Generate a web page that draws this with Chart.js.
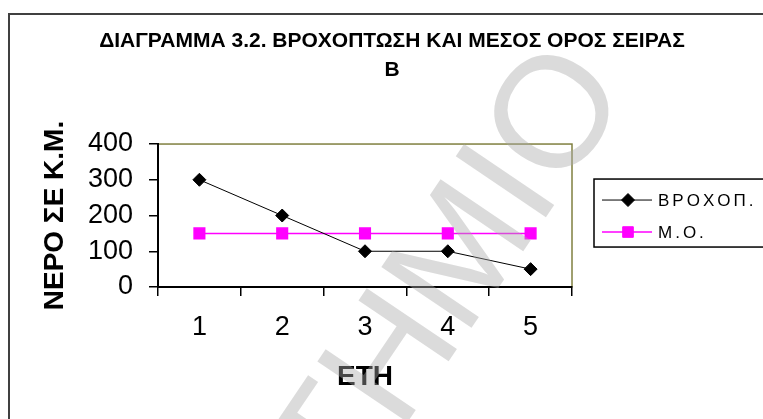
<!DOCTYPE html>
<html>
<head>
<meta charset="utf-8">
<script src="https://cdn.jsdelivr.net/npm/chart.js@4.4.0/dist/chart.umd.min.js"></script>
<style>
  body { margin: 0; background: #fff; }
  canvas { display: block; }
</style>
</head>
<body>
<canvas id="chart" width="763" height="419"></canvas>
<script>
// data
const years = ['1', '2', '3', '4', '5'];
const rainfall = [300, 200, 100, 100, 50];
const meanLine = [150, 150, 150, 150, 150];
const seriesNames = ['ΒΡΟΧΟΠ.', 'Μ.Ο.'];
const titleLines = ['ΔΙΑΓΡΑΜΜΑ 3.2. ΒΡΟΧΟΠΤΩΣΗ ΚΑΙ ΜΕΣΟΣ ΟΡΟΣ ΣΕΙΡΑΣ', 'Β'];
const yTitle = 'ΝΕΡΟ ΣΕ Κ.Μ.';
const xTitle = 'ΕΤΗ';
const watermark = 'ΕΠΙΣΤΗΜΙΟ';

const sans = "'Liberation Sans', Arial, sans-serif";

// white page with the dark frame round it
const framePlugin = {
    id: 'frame',
    beforeDraw(chart) {
        const ctx = chart.ctx;
        const area = chart.chartArea;
        ctx.save();
        ctx.fillStyle = '#fff';
        ctx.fillRect(0, 0, chart.width, chart.height);
        ctx.strokeStyle = '#404040';
        ctx.lineWidth = 2;
        ctx.strokeRect(9, 14, chart.width + 20, chart.height + 20);
        // olive plot border, the axes are drawn over its left and bottom
        ctx.strokeStyle = '#808040';
        ctx.lineWidth = 1.5;
        ctx.strokeRect(area.left, area.top, area.right - area.left, area.bottom - area.top);
        ctx.restore();
    }
};

// boxed legend with line + marker samples
const legendPlugin = {
    id: 'boxLegend',
    afterDraw(chart) {
        const ctx = chart.ctx;
        const area = chart.chartArea;
        const lx = area.right + 22;
        const ly = area.top + 35;
        ctx.save();
        ctx.strokeStyle = '#000';
        ctx.lineWidth = 1.5;
        ctx.strokeRect(lx, ly, 200, 68);
        ctx.font = '17px ' + sans;
        ctx.letterSpacing = '3px';
        ctx.textBaseline = 'middle';
        chart.data.datasets.forEach((ds, i) => {
            const y = ly + 21 + i * 32;
            ctx.strokeStyle = ds.borderColor;
            ctx.lineWidth = ds.borderWidth;
            ctx.beginPath();
            ctx.moveTo(lx + 8, y);
            ctx.lineTo(lx + 58, y);
            ctx.stroke();
            ctx.fillStyle = ds.pointBackgroundColor;
            ctx.strokeStyle = ds.pointBorderColor;
            ctx.lineWidth = 1;
            Chart.helpers.drawPoint(ctx, {pointStyle: ds.pointStyle, radius: ds.pointRadius, borderWidth: 1}, lx + 34, y);
            ctx.fillStyle = '#000';
            ctx.fillText(ds.label, lx + 64, y + 1);
        });
        ctx.restore();
    }
};

// faint diagonal watermark over everything
const watermarkPlugin = {
    id: 'watermark',
    afterDraw(chart) {
        const ctx = chart.ctx;
        ctx.save();
        ctx.translate(631, 91);
        ctx.rotate(-56 * Math.PI / 180);
        ctx.font = '158px ' + sans;
        ctx.fillStyle = 'rgba(170, 170, 170, 0.42)';
        ctx.textAlign = 'right';
        ctx.textBaseline = 'alphabetic';
        ctx.fillText(watermark, 0, 0);
        ctx.restore();
    }
};

new Chart(document.getElementById('chart'), {
    type: 'line',
    data: {
        labels: years,
        datasets: [{
            label: seriesNames[0],
            data: rainfall,
            borderColor: '#000',
            borderWidth: 1,
            pointStyle: 'rectRot',
            pointRadius: 6.5,
            pointBackgroundColor: '#000',
            pointBorderColor: '#000',
            tension: 0
        }, {
            label: seriesNames[1],
            data: meanLine,
            borderColor: '#ff00ff',
            borderWidth: 1.5,
            pointStyle: 'rect',
            pointRadius: 7.5,
            pointBackgroundColor: '#ff00ff',
            pointBorderColor: '#ff00ff',
            tension: 0
        }]
    },
    options: {
        responsive: false,
        animation: false,
        layout: { padding: { left: 21, right: 0, top: 0, bottom: 0 } },
        plugins: {
            legend: { display: false },
            tooltip: { enabled: false },
            title: {
                display: true,
                text: titleLines,
                color: '#000',
                font: { family: sans, size: 21, weight: 'bold', lineHeight: 1.37 },
                padding: { top: 27, bottom: 59.5 }
            }
        },
        scales: {
            x: {
                type: 'category',
                offset: true,
                grid: { offset: true, drawOnChartArea: false, drawTicks: true, tickLength: 9, color: '#000', lineWidth: 1.5 },
                border: { display: true, color: '#000', width: 2 },
                ticks: { color: '#000', padding: 15, font: { family: sans, size: 27 } },
                title: {
                    display: true, text: xTitle, color: '#000',
                    font: { family: sans, size: 28, weight: 'bold', lineHeight: 1.2 },
                    padding: { top: 0, bottom: 25 }
                },
                afterFit(scale) { scale.height = 132; }
            },
            y: {
                min: 0,
                max: 400,
                grid: { drawOnChartArea: false, drawTicks: true, tickLength: 9, color: '#000', lineWidth: 1.5 },
                border: { display: true, color: '#000', width: 2 },
                ticks: { stepSize: 100, autoSkip: false, color: '#000', padding: 16, font: { family: sans, size: 27 } },
                title: {
                    display: true, text: yTitle, color: '#000',
                    font: { family: sans, size: 28, weight: 'bold', lineHeight: 1.2 },
                    padding: { top: 17, bottom: 0 }
                },
                afterFit(scale) { scale.width = 137; }
            },
            // empty axis on the right keeps room for the legend box
            yRight: {
                position: 'right',
                grid: { display: false },
                border: { display: false },
                ticks: { display: false },
                afterFit(scale) { scale.width = 191; }
            }
        }
    },
    plugins: [framePlugin, legendPlugin, watermarkPlugin]
});
</script>
</body>
</html>
